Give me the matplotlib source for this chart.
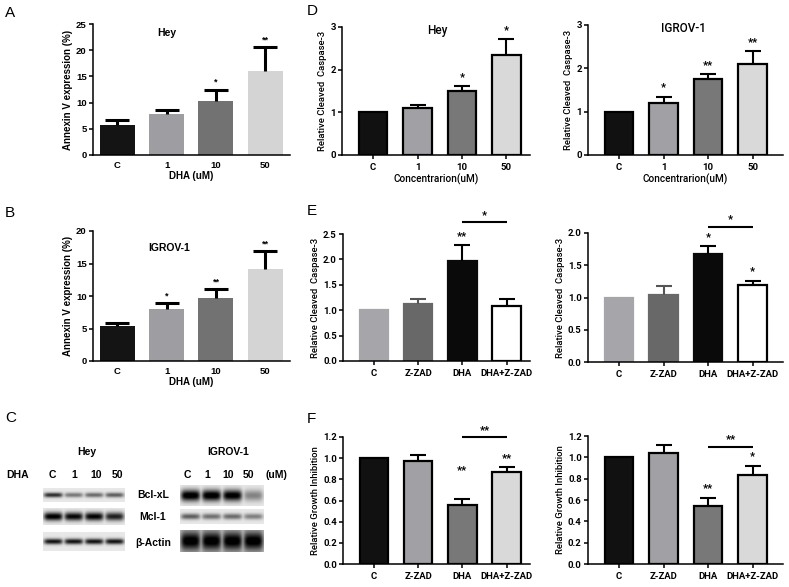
import numpy as np
import matplotlib
matplotlib.use('Agg')
import matplotlib.pyplot as plt

# ---------------- data ----------------
dha_cats = ['C', '1', '10', '50']
a_hey_vals = [5.7, 7.8, 10.4, 16.1]
a_hey_errs = [0.9, 0.7, 2.1, 4.5]
a_hey_stars = ['', '', '*', '**']

b_igrov_vals = [5.4, 8.0, 9.7, 14.2]
b_igrov_errs = [0.5, 0.9, 1.4, 2.7]
b_igrov_stars = ['', '*', '**', '**']

d_hey_vals = [1.0, 1.10, 1.50, 2.34]
d_hey_errs = [0.0, 0.07, 0.11, 0.37]
d_hey_stars = ['', '', '*', '*']

d_igrov_vals = [1.0, 1.21, 1.75, 2.11]
d_igrov_errs = [0.0, 0.14, 0.12, 0.29]
d_igrov_stars = ['', '*', '**', '**']

zad_cats = ['C', 'Z-ZAD', 'DHA', 'DHA+Z-ZAD']
e_left_vals = [1.0, 1.12, 1.97, 1.09]
e_left_errs = [0.0, 0.10, 0.31, 0.14]
e_left_stars = ['', '', '**', '']
e_left_bracket = ('*', 2.74)

e_right_vals = [1.0, 1.04, 1.67, 1.19]
e_right_errs = [0.0, 0.14, 0.13, 0.07]
e_right_stars = ['', '', '*', '*']
e_right_bracket = ('*', 2.10)

f_left_vals = [1.0, 0.975, 0.56, 0.865]
f_left_errs = [0.0, 0.055, 0.055, 0.05]
f_left_stars = ['', '', '**', '**']
f_left_star_y = [None, None, 0.80, None]
f_left_bracket = ('**', 1.20)

f_right_vals = [1.0, 1.04, 0.54, 0.835]
f_right_errs = [0.0, 0.075, 0.08, 0.085]
f_right_stars = ['', '', '**', '*']
f_right_bracket = ('**', 1.10)

# western blot band intensities (lanes C, 1, 10, 50)
blot_lanes = ['C', '1', '10', '50']
blot_proteins = ['Bcl-xL', 'Mcl-1', 'β-Actin']
hey_blot = {'Bcl-xL': [0.75, 0.45, 0.50, 0.55],
            'Mcl-1': [0.95, 0.90, 0.92, 0.80],
            'β-Actin': [0.85, 0.85, 0.85, 0.85]}
igrov_blot = {'Bcl-xL': [1.0, 1.0, 0.97, 0.40],
              'Mcl-1': [0.55, 0.48, 0.50, 0.42],
              'β-Actin': [1.0, 1.0, 1.0, 1.0]}

# ---------------- figure ----------------
W, H = 789, 587
fig = plt.figure(figsize=(W / 100, H / 100), dpi=100)
fig.patch.set_facecolor('white')

ARIAL = 'Liberation Sans'
CAL = 'Roboto'


def pax(l, t, r, b):
    return fig.add_axes([l / W, 1 - b / H, (r - l) / W, (b - t) / H])


def ftext(x, y, s, **kw):
    fig.text(x / W, 1 - y / H, s, **kw)


def bar_panel(ax, cats, vals, errs, colors, edges, ecolors, ylim, yticks,
              yfmt, xlim, width, capsize, elw, blw, stars, star_fs, star_off,
              family, ylabel, xlabel=None, xtick_len=0,
              tick_fs=6.2, ylab_fs=6.0, xlab_fs=6.5,
              star_y=None, bracket=None, lab_weight='bold'):
    x = np.arange(len(vals))
    ax.bar(x, vals, width=width, color=colors, edgecolor=edges,
           linewidth=blw, zorder=2)
    for i in range(len(vals)):
        if errs[i] > 0:
            _, caps, _ = ax.errorbar(x[i], vals[i], yerr=[[0], [errs[i]]],
                                     fmt='none', ecolor=ecolors[i],
                                     elinewidth=elw, capsize=capsize,
                                     capthick=elw, zorder=3)
            caps[0].set_visible(False)
    for i, s in enumerate(stars):
        if s:
            yv = vals[i] + errs[i]
            if star_y is not None and star_y[i] is not None:
                yv = star_y[i]
            ax.annotate(s, (x[i], yv), xytext=(0, star_off),
                        textcoords='offset points', ha='center', va='bottom',
                        fontsize=star_fs, fontfamily=family, fontweight='bold',
                        annotation_clip=False)
    if bracket is not None:
        txt, by = bracket
        ax.plot([2, 3], [by, by], color='black', lw=1.5, clip_on=False,
                solid_capstyle='butt')
        ax.annotate(txt, (2.5, by), xytext=(0, 1.5), textcoords='offset points',
                    ha='center', va='bottom', fontsize=star_fs,
                    fontfamily=family, fontweight='bold', annotation_clip=False)
    ax.set_xlim(*xlim)
    ax.set_ylim(*ylim)
    ax.set_yticks(yticks)
    ax.set_yticklabels([yfmt.format(t) for t in yticks], fontsize=tick_fs,
                       fontfamily=family, fontweight='bold')
    ax.set_xticks(x)
    ax.set_xticklabels(cats, fontsize=tick_fs, fontfamily=family,
                       fontweight='bold')
    for sp in ['top', 'right']:
        ax.spines[sp].set_visible(False)
    for sp in ['left', 'bottom']:
        ax.spines[sp].set_linewidth(1.1)
    ax.tick_params(axis='y', direction='out', length=3, width=1.1, pad=1.5)
    ax.tick_params(axis='x', direction='out', length=xtick_len, width=1.1,
                   pad=4 if xtick_len == 0 else 3)
    ax.set_ylabel(ylabel, fontsize=ylab_fs, fontfamily=family,
                  fontweight=lab_weight, labelpad=2)
    if xlabel:
        ax.set_xlabel(xlabel, fontsize=xlab_fs, fontfamily=family,
                      fontweight=lab_weight, labelpad=1)
    ax.set_facecolor('none')


DEF = dict(xtick_len=3, tick_fs=6.8, ylab_fs=6.8, xlab_fs=7.2,
           lab_weight='medium')

# ---- Panel A ----
ab_colors = ['#141414', '#9e9ea2', '#727272', '#d4d4d4']
axA = pax(93, 24, 290, 155)
bar_panel(axA, dha_cats, a_hey_vals, a_hey_errs, ab_colors, ab_colors,
          ['black'] * 4, (0, 25), [0, 5, 10, 15, 20, 25], '{:g}',
          (-0.49, 3.5), 0.71, 8.5, 2.2, 0, a_hey_stars, 6.5, 2, ARIAL,
          'Annexin V expression (%)', 'DHA (uM)', tick_fs=6.8,
          ylab_fs=7.0, xlab_fs=7.0)
axA.text(1.0, 24.3, 'Hey', ha='center', va='top', fontsize=7.5,
         fontfamily=ARIAL, fontweight='bold')

# ---- Panel B ----
axB = pax(93, 231, 290, 361)
bar_panel(axB, dha_cats, b_igrov_vals, b_igrov_errs, ab_colors, ab_colors,
          ['black'] * 4, (0, 20), [0, 5, 10, 15, 20], '{:g}',
          (-0.49, 3.5), 0.71, 8.5, 2.2, 0, b_igrov_stars, 6.5, 2, ARIAL,
          'Annexin V expression (%)', 'DHA (uM)', tick_fs=6.8,
          ylab_fs=7.0, xlab_fs=7.0)
axB.text(1.05, 18.2, 'IGROV-1', ha='center', va='top', fontsize=7.5,
         fontfamily=ARIAL, fontweight='bold')

# ---- Panel D ----
d_colors = ['#111111', '#a1a1a5', '#787878', '#d9d9d9']
axD1 = pax(342, 27, 530, 155)
bar_panel(axD1, dha_cats, d_hey_vals, d_hey_errs, d_colors, ['black'] * 4,
          ['black'] * 4, (0, 3), [0, 1, 2, 3], '{:g}', (-0.70, 3.53), 0.64,
          5.5, 1.5, 1.6, d_hey_stars, 8, 3, CAL,
          'Relative Cleaved  Caspase-3', 'Concentrarion(uM)', **DEF)
axD1.text(1.45, 3.08, 'Hey', ha='center', va='top', fontsize=8.5,
          fontfamily=CAL, fontweight='medium')

axD2 = pax(588, 25, 783, 155)
bar_panel(axD2, dha_cats, d_igrov_vals, d_igrov_errs, d_colors,
          ['black'] * 4, ['black'] * 4, (0, 3), [0, 1, 2, 3], '{:g}',
          (-0.70, 3.68), 0.64, 5.5, 1.5, 1.6, d_igrov_stars, 8, 3, CAL,
          'Relative Cleaved  Caspase-3', 'Concentrarion(uM)', **DEF)
axD2.text(1.45, 3.08, 'IGROV-1', ha='center', va='top', fontsize=8.5,
          fontfamily=CAL, fontweight='medium')

# ---- Panel E ----
e_colors = ['#a6a6aa', '#686868', '#0a0a0a', '#ffffff']
e_edges = ['#a6a6aa', '#686868', '#0a0a0a', 'black']
e_ecol = ['black', '#555555', 'black', 'black']
axE1 = pax(343, 234, 530, 361)
bar_panel(axE1, zad_cats, e_left_vals, e_left_errs, e_colors, e_edges,
          e_ecol, (0, 2.5), [0, 0.5, 1.0, 1.5, 2.0, 2.5], '{:.1f}',
          (-0.70, 3.53), 0.64, 5.5, 1.5, 1.6, e_left_stars, 8, 3, CAL,
          'Relative Cleaved  Caspase-3', None, bracket=e_left_bracket, **DEF)

axE2 = pax(588, 233, 783, 362)
bar_panel(axE2, zad_cats, e_right_vals, e_right_errs, e_colors, e_edges,
          e_ecol, (0, 2.0), [0, 0.5, 1.0, 1.5, 2.0], '{:.1f}',
          (-0.70, 3.68), 0.64, 5.5, 1.5, 1.6, e_right_stars, 8, 3, CAL,
          'Relative Cleaved  Caspase-3', None, bracket=e_right_bracket, **DEF)

# ---- Panel F ----
f_colors = ['#111111', '#a1a1a5', '#787878', '#d9d9d9']
axF1 = pax(343, 437, 530, 564)
bar_panel(axF1, zad_cats, f_left_vals, f_left_errs, f_colors, ['black'] * 4,
          ['black'] * 4, (0, 1.2), [0, 0.2, 0.4, 0.6, 0.8, 1.0, 1.2],
          '{:.1f}', (-0.70, 3.53), 0.64, 5.5, 1.5, 1.6, f_left_stars, 8, 3,
          CAL, 'Relative Growth Inhibition', None,
          star_y=f_left_star_y, bracket=f_left_bracket, **DEF)

axF2 = pax(588, 436, 783, 564)
bar_panel(axF2, zad_cats, f_right_vals, f_right_errs, f_colors,
          ['black'] * 4, ['black'] * 4, (0, 1.2),
          [0, 0.2, 0.4, 0.6, 0.8, 1.0, 1.2], '{:.1f}', (-0.70, 3.68), 0.64,
          5.5, 1.5, 1.6, f_right_stars, 8, 3, CAL,
          'Relative Growth Inhibition', None, bracket=f_right_bracket, **DEF)


# ---- Panel C: western blots ----
def draw_blot(l, t, r, b, intens, sigma, bg=0.91, lane_hw=0.43):
    ax = pax(l, t, r, b)
    nx, ny = 240, 60
    xs = np.linspace(0, len(intens), nx)
    ys = np.linspace(-1, 1, ny)
    X, Y = np.meshgrid(xs, ys)
    dark = np.zeros_like(X)
    for i, v in enumerate(intens):
        lane = 1.0 / (1.0 + np.exp((np.abs(X - (i + 0.5)) - lane_hw) / 0.06))
        prof = np.exp(-(Y / sigma) ** 2)
        dark = np.maximum(dark, v * lane * prof)
    img = bg * (1 - np.clip(dark * 1.1, 0, 1))
    ax.imshow(img, cmap='gray', vmin=0, vmax=1, aspect='auto',
              extent=(0, len(intens), -1, 1), interpolation='bilinear')
    ax.set_axis_off()
    return ax


# Hey blots
draw_blot(43, 488, 125, 502, hey_blot['Bcl-xL'], 0.35)
draw_blot(43, 508, 125, 525, hey_blot['Mcl-1'], 0.50)
draw_blot(43, 532, 125, 551, hey_blot['β-Actin'], 0.30)
# IGROV-1 blots
draw_blot(180, 485, 263, 506, igrov_blot['Bcl-xL'], 0.55)
draw_blot(180, 509, 263, 524, igrov_blot['Mcl-1'], 0.40)
draw_blot(180, 530, 263, 552, igrov_blot['β-Actin'], 0.85, bg=0.75)

cf = dict(fontfamily=ARIAL, fontweight='bold', fontsize=7.5, ha='center',
          va='center')
ftext(87, 452, 'Hey', **cf)
ftext(228, 452, 'IGROV-1', **cf)
ftext(18, 475, 'DHA', **cf)
for xx, lab in zip([52, 74, 96, 117], blot_lanes):
    ftext(xx, 475, lab, **cf)
for xx, lab in zip([187, 207, 228, 248], blot_lanes):
    ftext(xx, 475, lab, **cf)
ftext(276, 475, '(uM)', **cf)
for yy, lab in zip([495, 517, 543], blot_proteins):
    ftext(153, yy, lab, **cf)

# ---- panel letters ----
lf = dict(fontfamily=ARIAL, fontsize=11, ha='left', va='center')
ftext(5, 13, 'A', **lf)
ftext(5, 213, 'B', **lf)
ftext(5, 418, 'C', **lf)
ftext(307, 11, 'D', **lf)
ftext(307, 211, 'E', **lf)
ftext(307, 419, 'F', **lf)

fig.savefig('out.png', dpi=100, facecolor='white')
